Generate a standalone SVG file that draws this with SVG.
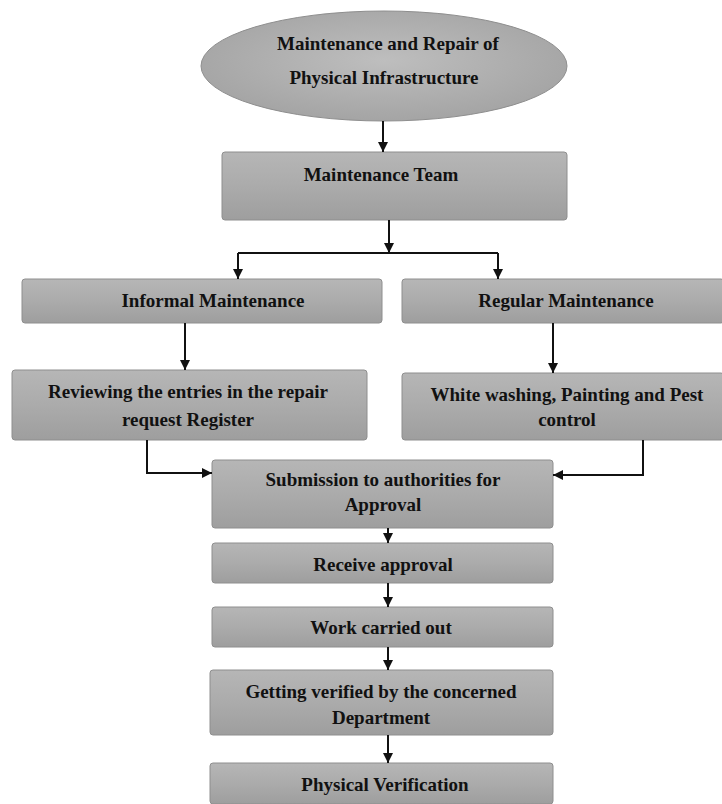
<svg xmlns="http://www.w3.org/2000/svg" width="722" height="804" viewBox="0 0 722 804">
<defs>
<linearGradient id="g" x1="0" y1="0" x2="0" y2="1">
<stop offset="0" stop-color="#b6b6b6"/>
<stop offset="0.5" stop-color="#ababab"/>
<stop offset="1" stop-color="#9e9e9e"/>
</linearGradient>
<radialGradient id="ge" cx="0.5" cy="0.45" r="0.6">
<stop offset="0" stop-color="#bebebe"/>
<stop offset="1" stop-color="#a2a2a2"/>
</radialGradient>
<marker id="ah" viewBox="0 0 10 10" refX="10" refY="5" markerWidth="10" markerHeight="10" markerUnits="userSpaceOnUse" orient="auto">
<path d="M0,0 L10,5 L0,10 z" fill="#111"/>
</marker>
<style>
.box{fill:url(#g);stroke:#8e8e8e;stroke-width:1}
.t{font-family:"Liberation Serif","Times New Roman",serif;font-weight:bold;font-size:19px;fill:#111;text-anchor:middle}
.c{fill:none;stroke:#111;stroke-width:2;marker-end:url(#ah)}
.l{fill:none;stroke:#111;stroke-width:2}
</style>
</defs>
<g id="n-root">
<ellipse cx="384" cy="66" rx="183" ry="55" fill="url(#ge)" stroke="#8e8e8e"/>
<text class="t" x="388" y="50">Maintenance and Repair of</text>
<text class="t" x="384" y="84">Physical Infrastructure</text>
</g>
<g id="n-team">
<rect class="box" x="222" y="152" width="345" height="68" rx="3"/>
<text class="t" x="381" y="181">Maintenance Team</text>
</g>
<g id="n-informal">
<rect class="box" x="22" y="279" width="360" height="44" rx="3"/>
<text class="t" x="213" y="307">Informal Maintenance</text>
</g>
<g id="n-regular">
<rect class="box" x="402" y="279" width="322" height="44" rx="3"/>
<text class="t" x="566" y="307">Regular Maintenance</text>
</g>
<g id="n-review">
<rect class="box" x="12" y="370" width="355" height="70" rx="3"/>
<text class="t" x="188" y="398">Reviewing the entries in the repair</text>
<text class="t" x="188" y="426">request Register</text>
</g>
<g id="n-white">
<rect class="box" x="402" y="373" width="322" height="67" rx="3"/>
<text class="t" x="567" y="401">White washing, Painting and Pest</text>
<text class="t" x="567" y="426">control</text>
</g>
<g id="n-submit">
<rect class="box" x="212" y="460" width="341" height="68" rx="3"/>
<text class="t" x="383" y="486">Submission to authorities for</text>
<text class="t" x="383" y="511">Approval</text>
</g>
<g id="n-receive">
<rect class="box" x="212" y="543" width="341" height="40" rx="3"/>
<text class="t" x="383" y="571">Receive approval</text>
</g>
<g id="n-work">
<rect class="box" x="212" y="607" width="341" height="40" rx="3"/>
<text class="t" x="381" y="634">Work carried out</text>
</g>
<g id="n-verify">
<rect class="box" x="210" y="670" width="343" height="65" rx="3"/>
<text class="t" x="381" y="698">Getting verified by the concerned</text>
<text class="t" x="381" y="724">Department</text>
</g>
<g id="n-physical">
<rect class="box" x="210" y="763" width="343" height="41" rx="3"/>
<text class="t" x="385" y="791">Physical Verification</text>
</g>
<g id="connectors">
<path class="c" d="M383,121 V152"/>
<path class="l" d="M238,253 H498"/>
<path class="c" d="M389,220 V253"/>
<path class="c" d="M238,253 V279"/>
<path class="c" d="M498,253 V279"/>
<path class="c" d="M185,323 V370"/>
<path class="c" d="M553,323 V373"/>
<path class="c" d="M147,440 V473 H212"/>
<path class="c" d="M643,440 V475 H553"/>
<path class="c" d="M388,528 V543"/>
<path class="c" d="M388,583 V607"/>
<path class="c" d="M388,647 V670"/>
<path class="c" d="M388,735 V763"/>
</g>
</svg>
